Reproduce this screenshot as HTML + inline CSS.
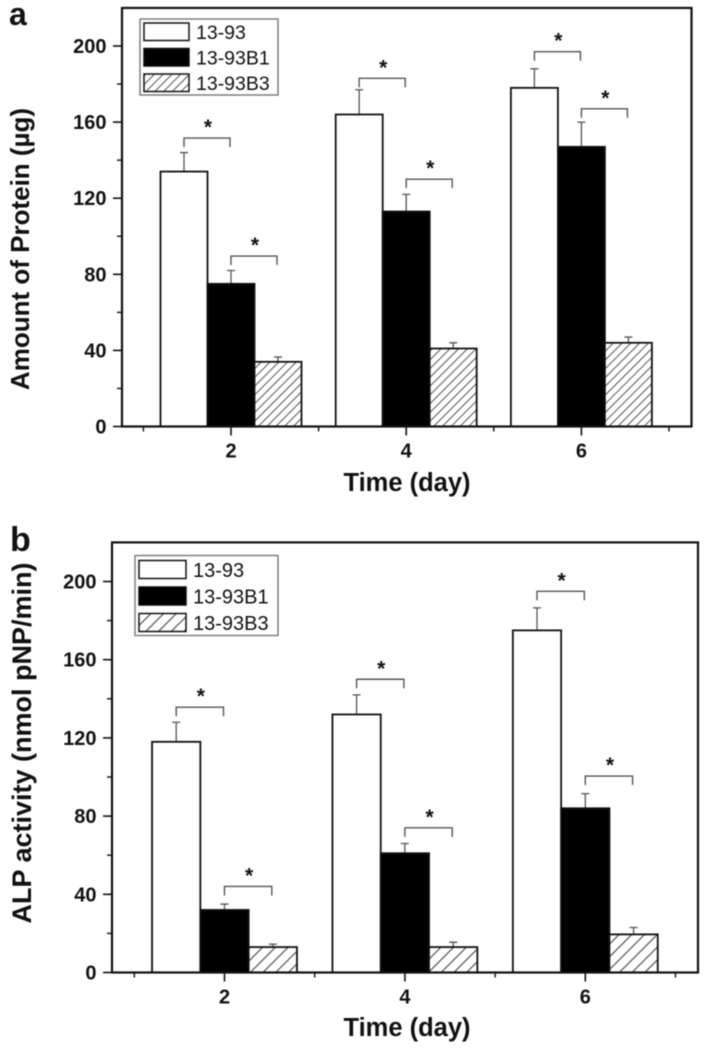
<!DOCTYPE html>
<html lang="en">
<head>
<meta charset="utf-8">
<title>Protein amount and ALP activity over time</title>
<style>
  html, body { margin: 0; padding: 0; background: #fff; }
  body { width: 707px; height: 1050px; overflow: hidden; }
  svg { display: block; filter: blur(0.55px); }
  text { font-family: "Liberation Sans", sans-serif; fill: #111; }
  .tick { font-size: 20px; font-weight: bold; }
  .title { font-weight: bold; }
  .star { font-size: 21px; font-weight: bold; }
  .panel { font-weight: bold; }
</style>
</head>
<body>
<svg id="fig" xmlns="http://www.w3.org/2000/svg" width="707" height="1050" viewBox="0 0 707 1050">
  <defs>
    <pattern id="hatch-a" patternUnits="userSpaceOnUse" width="6.2" height="6.2" patternTransform="rotate(45)">
      <rect width="6.2" height="6.2" fill="#fff"></rect>
      <rect x="0" y="0" width="1" height="6.2" fill="#555"></rect>
    </pattern>
    <pattern id="hatch-b" patternUnits="userSpaceOnUse" width="9" height="9" patternTransform="rotate(45)">
      <rect width="9" height="9" fill="#fff"></rect>
      <rect x="0" y="0" width="1.1" height="9" fill="#444"></rect>
    </pattern>
  </defs>
</svg>
<script>
const days = ["2", "4", "6"];
const seriesNames = ["13-93", "13-93B1", "13-93B3"];
const yTicks = [0, 40, 80, 120, 160, 200];
const yMinorTicks = [20, 60, 100, 140, 180];
const xMinorDays = [1, 3, 5, 7];

const proteinA = [134, 164, 178];
const proteinB1 = [75, 113, 147];
const proteinB3 = [34, 41, 44];
const proteinErrA = [10, 13, 10];
const proteinErrB1 = [7, 9, 13];
const proteinErrB3 = [2.5, 3, 3];
const proteinBracketUpper = [151.6, 183, 197];
const proteinBracketLower = [89.6, 130, 167];

const alpA = [118, 132, 175];
const alpB1 = [32, 61, 84];
const alpB3 = [13, 13, 19.5];
const alpErrA = [10, 10, 11.5];
const alpErrB1 = [3, 5, 7.5];
const alpErrB3 = [1.5, 2.5, 3.5];
const alpBracketUpper = [135.7, 150, 195];
const alpBracketLower = [44, 74, 100.5];

const svg = document.getElementById('fig');
const NS = 'http://www.w3.org/2000/svg';

function make(parent, tag, attrs, content) {
  const el = document.createElementNS(NS, tag);
  for (const k in attrs) el.setAttribute(k, attrs[k]);
  if (content !== undefined) el.textContent = content;
  parent.appendChild(el);
  return el;
}

function drawPanel(p) {
  const g = make(svg, 'g', {});
  
  
  const yScale = v => p.y0 - v * p.yUnit;
  const xScale = d => p.xDay2 + (d - 2) * p.xUnit;
  const yTop = yScale(220);
  const fills = ['#fff', '#000', 'url(#' + p.hatch + ')'];
  const barKeys = ['white', 'black', 'hatched'];

  days.forEach((day, di) => {
    const center = xScale(+day);
    p.values.forEach((vals, si) => {
      const x = center - p.barW * 1.5 + si * p.barW;
      const top = yScale(vals[di]);
      const errTop = yScale(vals[di] + p.errs[si][di]);
      const cx = x + p.barW / 2;
      const err = make(g, 'path', {
        d: 'M' + cx + ' ' + top + 'V' + errTop + 'M' + (cx - 4) + ' ' + errTop + 'H' + (cx + 4),
        fill: 'none', stroke: '#555', 'stroke-width': 1.3
      });
      
      
      const bar = make(g, 'rect', {
        x: x, y: top, width: p.barW, height: p.y0 - top,
        fill: fills[si], stroke: '#111', 'stroke-width': 1.8
      });
      
      
    });
    [p.upper[di], p.lower[di]].forEach((v, bi) => {
      const left = center - p.barW + bi * p.barW;
      const right = left + p.barW - 1;
      const by = yScale(v);
      const br = make(g, 'path', {
        d: 'M' + left + ' ' + (by + 9) + 'V' + by + 'H' + right + 'V' + (by + 9),
        fill: 'none', stroke: '#555', 'stroke-width': 1.4
      });
      
      
      const st = make(g, 'text', {
        class: 'star', x: (left + right) / 2 + 1, y: by - 4, 'text-anchor': 'middle'
      }, '*');
      
      
    });
  });

  const frame = make(g, 'rect', {
    x: p.left, y: yTop, width: p.right - p.left, height: p.y0 - yTop,
    fill: 'none', stroke: '#111', 'stroke-width': 2.2
  });
  
  

  yTicks.forEach(v => {
    const t = make(g, 'line', {
      x1: p.left - 9, x2: p.left, y1: yScale(v), y2: yScale(v), stroke: '#111', 'stroke-width': 1.6
    });
    
    
    const l = make(g, 'text', {
      class: 'tick', x: p.left - 15.5, y: yScale(v) + 7, 'text-anchor': 'end'
    }, String(v));
    
    
  });
  yMinorTicks.forEach(v => {
    const t = make(g, 'line', {
      x1: p.left - 5, x2: p.left, y1: yScale(v), y2: yScale(v), stroke: '#111', 'stroke-width': 1.4
    });
    
    
  });
  days.forEach(day => {
    const x = xScale(+day);
    const t = make(g, 'line', {
      x1: x, x2: x, y1: p.y0, y2: p.y0 + 9, stroke: '#111', 'stroke-width': 1.6
    });
    
    
    const l = make(g, 'text', {
      class: 'tick', x: x, y: p.y0 + 31, 'text-anchor': 'middle'
    }, day);
    
    
  });
  xMinorDays.forEach(d => {
    const x = xScale(d);
    const t = make(g, 'line', {
      x1: x, x2: x, y1: p.y0, y2: p.y0 + 5, stroke: '#111', 'stroke-width': 1.4
    });
    
    
  });

  const xTitle = make(g, 'text', {
    class: 'title', x: 407, y: p.xTitleY, 'text-anchor': 'middle', 'font-size': 25.5
  }, 'Time (day)');
  
  
  const yTitle = make(g, 'text', {
    class: 'title', 'text-anchor': 'middle', 'font-size': p.yTitleSize,
    transform: 'translate(' + p.yTitleX + ' ' + p.yTitleY + ') rotate(-90)'
  }, p.yTitle);
  
  
  const letter = make(g, 'text', {
    class: 'panel', x: p.letterX, y: p.letterY, 'font-size': p.letterSize
  }, p.letter);
  
  

  const lg = make(g, 'g', {});
  
  
  const L = p.legend;
  const box = make(lg, 'rect', {
    x: L.x, y: L.y, width: L.w, height: L.h, fill: '#fff', stroke: '#777', 'stroke-width': 1.4
  });
  
  
  seriesNames.forEach((name, i) => {
    const ry = L.y + L.pad + i * L.step;
    const sw = make(lg, 'rect', {
      x: L.x + 4, y: ry, width: L.swW, height: L.swH,
      fill: fills[i], stroke: '#111', 'stroke-width': 1.5
    });
    
    
    const tx = make(lg, 'text', {
      x: L.x + L.swW + 11, y: ry + L.swH - 1.5, 'font-size': L.font
    }, name);
    
    
  });
}

drawPanel({
  id: 'protein', letter: 'a', letterX: 9, letterY: 25, letterSize: 32, hatch: 'hatch-a',
  left: 122, right: 691.5, y0: 426.5, yUnit: 1.9025,
  xDay2: 231, xUnit: 87.6, barW: 47,
  values: [proteinA, proteinB1, proteinB3],
  errs: [proteinErrA, proteinErrB1, proteinErrB3],
  upper: proteinBracketUpper, lower: proteinBracketLower,
  yTitle: 'Amount of Protein (\u00b5g)', yTitleX: 29, yTitleY: 249, yTitleSize: 26,
  xTitleY: 491,
  legend: { x: 140, y: 19, w: 138, h: 76, pad: 4, step: 25.5, swW: 45, swH: 17.5, font: 19.5 }
});

drawPanel({
  id: 'alp', letter: 'b', letterX: 10, letterY: 551, letterSize: 34, hatch: 'hatch-b',
  left: 112, right: 698, y0: 972.5, yUnit: 1.955,
  xDay2: 224.5, xUnit: 90.2, barW: 48.3,
  values: [alpA, alpB1, alpB3],
  errs: [alpErrA, alpErrB1, alpErrB3],
  upper: alpBracketUpper, lower: alpBracketLower,
  yTitle: 'ALP activity (nmol pNP/min)', yTitleX: 31, yTitleY: 743, yTitleSize: 27,
  xTitleY: 1036,
  legend: { x: 135, y: 555.5, w: 143, h: 80, pad: 5, step: 26.5, swW: 47, swH: 18, font: 20 }
});
</script>
</body>
</html>
